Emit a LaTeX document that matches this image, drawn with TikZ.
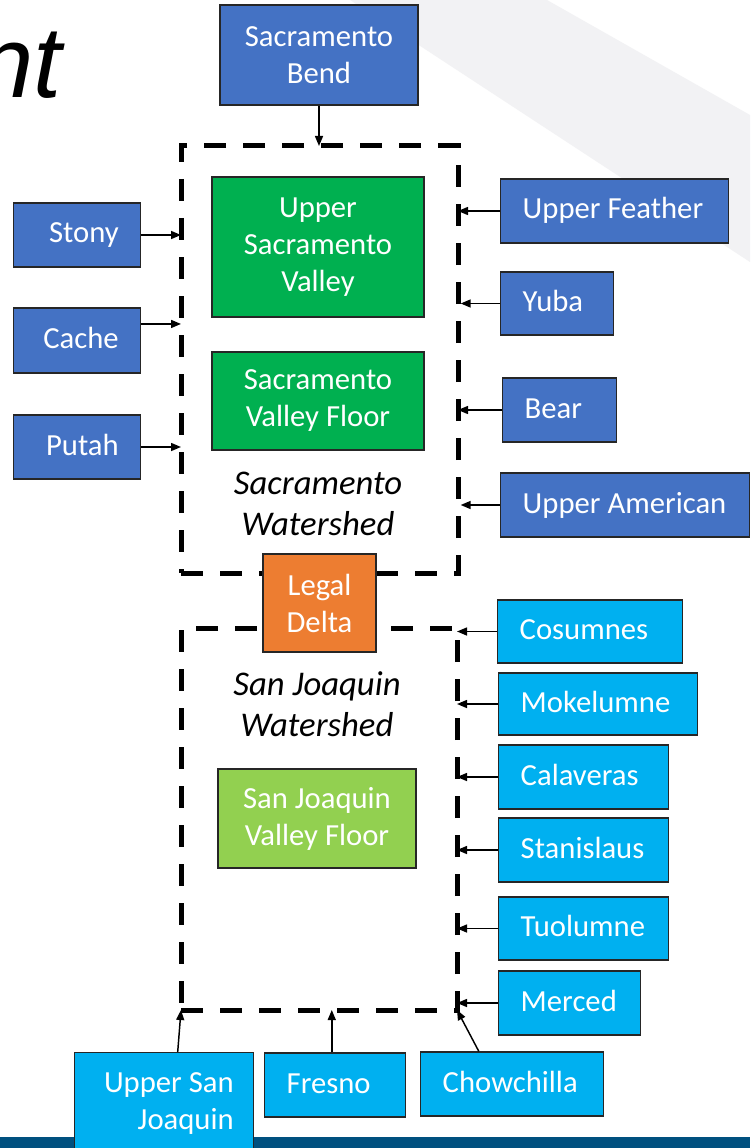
\documentclass[tikz,border=0pt]{standalone}
\usepackage{fontspec}
\setmainfont{Carlito}
\newfontfamily\titlefont{Liberation Sans}
\usetikzlibrary{arrows.meta}
\hyphenpenalty=10000
\exhyphenpenalty=10000
\definecolor{sacblue}{HTML}{4472C4}
\definecolor{sjblue}{HTML}{00B0F0}
\definecolor{dkgreen}{HTML}{00B050}
\definecolor{ltgreen}{HTML}{92D050}
\definecolor{deltaorange}{HTML}{ED7D31}
\definecolor{barblue}{HTML}{00507F}
\definecolor{bandgray}{HTML}{F2F2F4}
\tikzset{
  box/.style={draw=black!85, line width=1.1pt, text=white, font=\fontsize{23}{27.75}\selectfont, inner sep=0pt},
  cbox/.style={box, align=flush center},
  lbox/.style={box, anchor=west, align=flush left, inner xsep=16.5pt, text height=17pt, text depth=5pt},
  rbox/.style={box, anchor=west, align=flush right, inner xsep=16.5pt, text height=17pt, text depth=5pt},
  wsbox/.style={draw=black, line width=3.75pt, dash pattern=on 16.5pt off 12.75pt, inner sep=0pt, outer sep=0pt},
  wslabel/.style={font=\itshape\fontsize{26}{30.75}\selectfont, align=flush center, text=black},
  arr/.style={-{Triangle[length=7.5pt,width=6pt]}, line width=1.1pt, black}
}
\begin{document}
\begin{tikzpicture}[x=0.75pt, y=-0.75pt]
\useasboundingbox (0,0) rectangle (750,1148);
\clip (0,0) rectangle (750,1148);
\fill[white] (0,0) rectangle (750,1148);
\fill[bandgray] (350,0) -- (547,0) -- (750,115) -- (750,262) -- cycle;
\fill[barblue] (0,1137) rectangle (750,1148);

\node[font=\titlefont\itshape\fontsize{76}{80}\selectfont, anchor=base east, inner sep=0pt] (title) at (62,98) {nt};

% watershed outlines
\node[wsbox, minimum width=207.75pt, minimum height=320.25pt] (sac) at (319.5,359.5) {};
\node[wsbox, minimum width=207pt, minimum height=286.5pt] (sj) at (319,819) {};

% watershed labels
\node[wslabel] (sacl) at (318,504) {Sacramento\\Watershed};
\node[wslabel] (sjl) at (317,704) {San Joaquin\\Watershed};

% central boxes
\node[cbox, fill=sacblue, minimum width=148.5pt, minimum height=75pt] (bend) at (319,55) {Sacramento\\Bend};
\node[cbox, fill=dkgreen, minimum width=159pt, minimum height=105pt] (usv) at (318,247) {Upper\\Sacramento\\Valley};
\node[cbox, fill=dkgreen, minimum width=159pt, minimum height=73.5pt] (svf) at (318,401) {Sacramento\\Valley Floor};
\node[cbox, fill=deltaorange, minimum width=84.75pt, minimum height=73.5pt] (legal) at (319.5,603) {Legal\\Delta};
\node[cbox, fill=ltgreen, minimum width=148.5pt, minimum height=74.25pt] (sjvf) at (317,818.5) {San Joaquin\\Valley Floor};

% west-side Sacramento tributaries
\node[rbox, fill=sacblue, text width=62.25pt, minimum height=48pt] (stony) at (13,235) {Stony};
\node[rbox, fill=sacblue, text width=62.25pt, minimum height=48.75pt] (cache) at (13,340.5) {Cache};
\node[rbox, fill=sacblue, text width=62.25pt, minimum height=48pt] (putah) at (13,447) {Putah};

% east-side Sacramento tributaries
\node[lbox, fill=sacblue, text width=138pt, minimum height=48pt] (ufeather) at (500,211) {Upper Feather};
\node[lbox, fill=sacblue, text width=51.75pt, minimum height=47.25pt] (yuba) at (500,303.5) {Yuba};
\node[lbox, fill=sacblue, text width=52.5pt, minimum height=48pt] (bear) at (502,410) {Bear};
\node[lbox, fill=sacblue, text width=153.75pt, minimum height=48pt] (uamerican) at (500,505) {Upper American};

% San Joaquin east-side tributaries
\node[lbox, fill=sjblue, text width=105.75pt, minimum height=47.25pt] (cosumnes) at (497,631.5) {Cosumnes};
\node[lbox, fill=sjblue, text width=116.25pt, minimum height=46.5pt] (mokelumne) at (498,704) {Mokelumne};
\node[lbox, fill=sjblue, text width=94.5pt, minimum height=48pt] (calaveras) at (498,777) {Calaveras};
\node[lbox, fill=sjblue, text width=94.5pt, minimum height=48pt] (stanislaus) at (498,850) {Stanislaus};
\node[lbox, fill=sjblue, text width=94.5pt, minimum height=47.25pt] (tuolumne) at (498,928.5) {Tuolumne};
\node[lbox, fill=sjblue, text width=73.5pt, minimum height=48pt] (merced) at (498,1003) {Merced};

% southern tributaries
\node[box, fill=sjblue, anchor=north west, align=flush right, inner xsep=15pt, text width=104.25pt, minimum height=75.75pt] (usj) at (74,1052) {Upper San\\Joaquin};
\node[lbox, fill=sjblue, text width=72.75pt, minimum height=48pt] (fresno) at (264,1085) {Fresno};
\node[lbox, fill=sjblue, text width=104.25pt, minimum height=48pt] (chowchilla) at (420,1084) {Chowchilla};

% connectors
\draw[arr] (bend.south) -- (bend.south |- sac.north);
\draw[arr] (stony.east) -- (stony.east -| sac.west);
\draw[arr] ([yshift=12.4pt]cache.east) -- ([yshift=12.4pt]cache.east -| sac.west);
\draw[arr] (putah.east) -- (putah.east -| sac.west);
\draw[arr] (ufeather.west) -- (ufeather.west -| sac.east);
\draw[arr] (yuba.west) -- ([xshift=2pt]yuba.west -| sac.east);
\draw[arr] (bear.west) -- (bear.west -| sac.east);
\draw[arr] (uamerican.west) -- ([xshift=2pt]uamerican.west -| sac.east);
\draw[arr] (cosumnes.west) -- (cosumnes.west -| sj.east);
\draw[arr] (mokelumne.west) -- (mokelumne.west -| sj.east);
\draw[arr] (calaveras.west) -- (calaveras.west -| sj.east);
\draw[arr] (stanislaus.west) -- (stanislaus.west -| sj.east);
\draw[arr] (tuolumne.west) -- (tuolumne.west -| sj.east);
\draw[arr] (merced.west) -- (merced.west -| sj.east);
\draw[arr] ([xshift=10.1pt]usj.north) -- (sj.south west);
\draw[arr] ([xshift=-2.6pt]fresno.north) -- ([xshift=-2.6pt]fresno.north |- sj.south);
\draw[arr] ([xshift=-25.1pt]chowchilla.north) -- (sj.south east);
\end{tikzpicture}
\end{document}
